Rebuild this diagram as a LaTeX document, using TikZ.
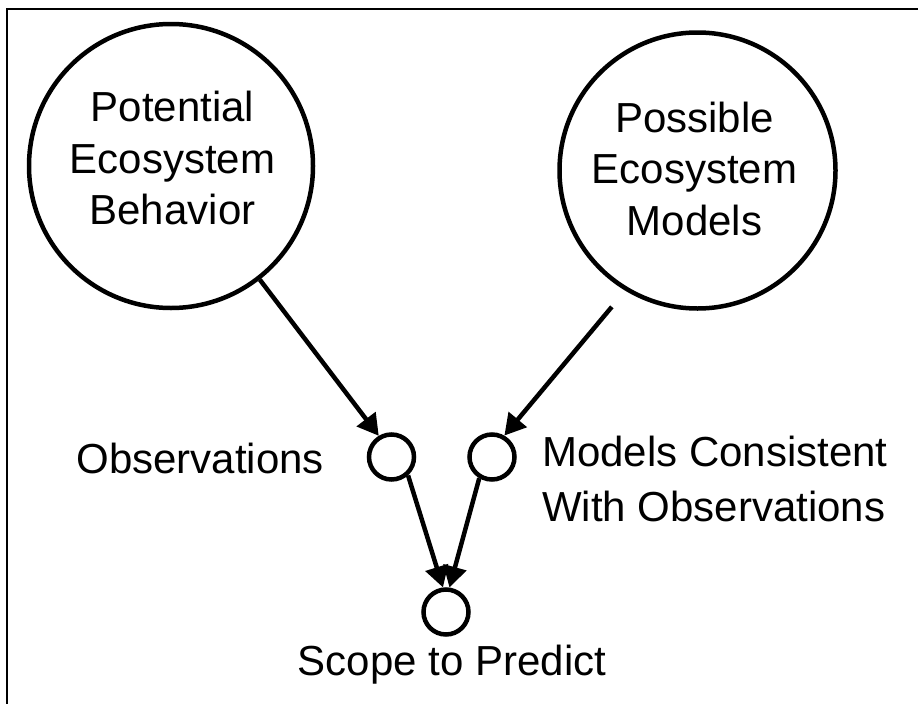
\documentclass[tikz,border=0pt]{standalone}
\usepackage{fontspec}
\setmainfont{Liberation Sans}
\usetikzlibrary{arrows.meta}

\begin{document}
\begin{tikzpicture}[x=1pt,y=-1pt,
  bigcirc/.style={circle,draw,line width=4.5pt,inner sep=0pt},
  smallcirc/.style={circle,draw,line width=4.5pt,inner sep=0pt,minimum size=45pt},
  lbl/.style={inner sep=0pt,font=\fontsize{42}{51.5}\selectfont},
  arr/.style={line width=4.5pt,-{Triangle[length=21pt,width=23pt]}}]
\useasboundingbox (0,0) rectangle (918,704);
\draw[line width=2pt] (918,9) -- (7,9) -- (7,704);
% big circles
\node[bigcirc,minimum size=284pt] (behav) at (171,166) {};
\node[bigcirc,minimum size=276pt] (models) at (697.5,170.5) {};
\node[lbl,align=center] (behavtext) at (172.5,158.2) {Potential\\Ecosystem\\Behavior};
\node[lbl,align=center] (modelstext) at (694.5,168.8) {Possible\\Ecosystem\\Models};
% small circles
\node[smallcirc] (obs) at (391.5,457) {};
\node[smallcirc] (cons) at (492,457) {};
\node[smallcirc] (scope) at (446,612) {};
\node[lbl,anchor=base east] (obstext) at (324,473) {Observations};
\node[lbl,anchor=west,align=left,font=\fontsize{42}{55}\selectfont] (constext) at (542,479) {Models Consistent\\With Observations};
\node[lbl,anchor=base] (scopetext) at (452,675) {Scope to Predict};
% arrows
\draw[arr] (behav.-52.6) -- (obs.121);
\draw[arr,shorten <=21pt] (models.-121) -- (cons.60.6);
\draw[arr] (obs.-48.6) -- (scope.97.7);
\draw[arr] (cons.-121.3) -- (scope.82.3);
\end{tikzpicture}
\end{document}
